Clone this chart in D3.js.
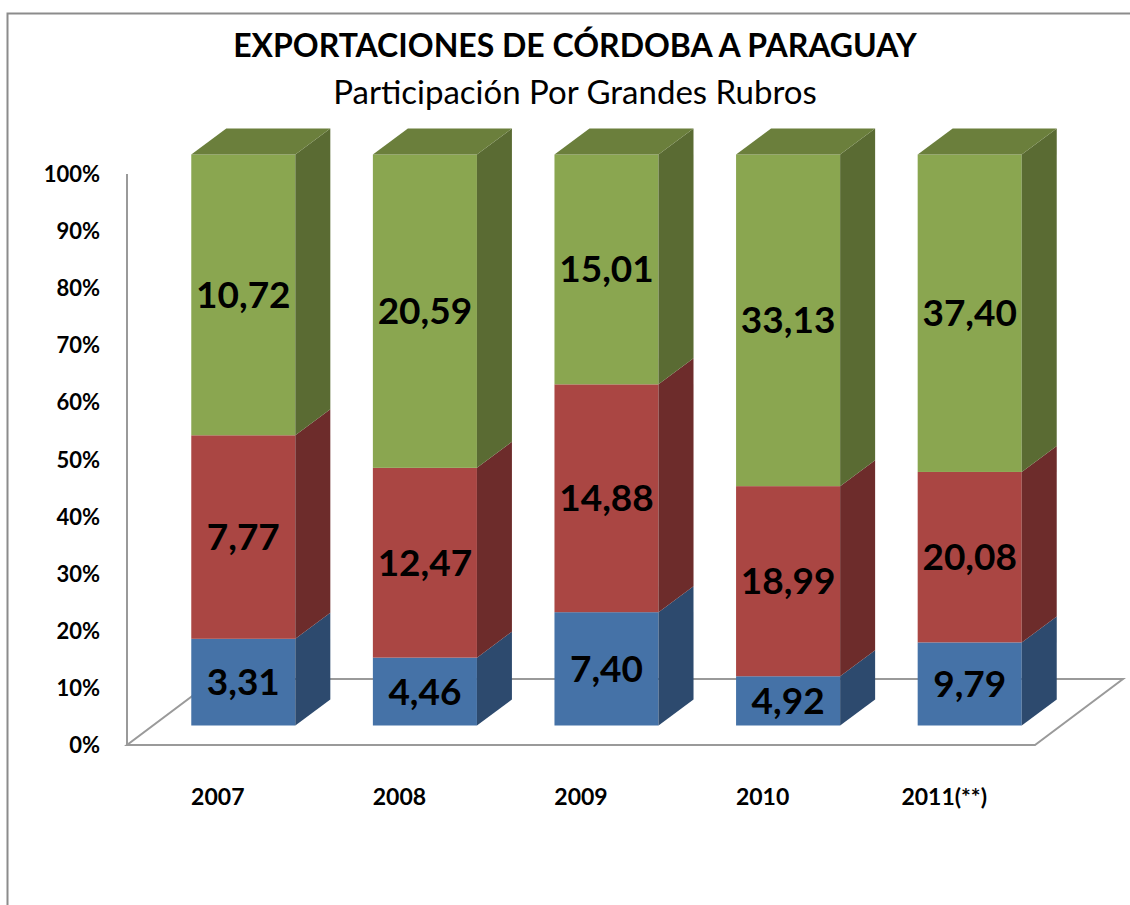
<!DOCTYPE html>
<html>
<head>
<meta charset="utf-8">
<script src="https://d3js.org/d3.v7.min.js"></script>
<style>
    body { margin: 0; background: #fff; }
    text { font-family: Lato, "Liberation Sans", sans-serif; }
</style>
</head>
<body>
<div id="chart"></div>
<script>
const years = ["2007", "2008", "2009", "2010", "2011(**)"];
const blueValues = [3.31, 4.46, 7.40, 4.92, 9.79];
const redValues = [7.77, 12.47, 14.88, 18.99, 20.08];
const greenValues = [10.72, 20.59, 15.01, 33.13, 37.40];
const yTicks = [0, 0.1, 0.2, 0.3, 0.4, 0.5, 0.6, 0.7, 0.8, 0.9, 1];

const series = [
    { values: blueValues, front: "#4572A7", side: "#2D4A6E", top: "#3A5F8C" },
    { values: redValues, front: "#AA4643", side: "#6D2C2B", top: "#8A3836" },
    { values: greenValues, front: "#8AA650", side: "#5A6B33", top: "#6B7F3C" }
];

drawChart();

function drawChart() {
    const width = 1130, height = 905;

    const svg = d3.select("#chart")
        .append("svg")
        .attr("width", width)
        .attr("height", height);

    svg.append("rect")
        .attr("width", width)
        .attr("height", height)
        .attr("fill", "#fff");

    // outer frame, cut off at the right and bottom like the original
    svg.append("rect")
        .attr("x", 7.5)
        .attr("y", 13.5)
        .attr("width", 1300)
        .attr("height", 1000)
        .attr("fill", "none")
        .attr("stroke", "#8c8c8c")
        .attr("stroke-width", 2);

    const x = d3.scaleBand()
        .domain(years)
        .range([127, 1035])
        .paddingInner(0.427)
        .paddingOuter(0.2135);

    const y = d3.scaleLinear()
        .domain([0, 1])
        .range([745, 174]);

    // floor depth and bar placement inside it
    const floorDepth = { dx: 88, dy: -66 };
    const barShift = { dx: 25.5, dy: -19.5 };
    const barDepth = { dx: 35, dy: -26 };

    drawFloor(svg, x, y, floorDepth);
    drawAxes(svg, x, y);
    drawBars(svg, x, y, barShift, barDepth);
    drawTitle(svg);
}

function drawFloor(svg, x, y, depth) {
    const [x0, x1] = x.range();
    const y0 = y(0);

    const pts = [
        [x0, y0], [x1, y0],
        [x1 + depth.dx, y0 + depth.dy],
        [x0 + depth.dx, y0 + depth.dy]
    ];

    svg.append("path")
        .attr("d", d3.line()(pts) + "Z")
        .attr("fill", "none")
        .attr("stroke", "#9a9a9a")
        .attr("stroke-width", 2);

    // vertical axis line
    svg.append("line")
        .attr("x1", x0).attr("x2", x0)
        .attr("y1", y(1)).attr("y2", y0)
        .attr("stroke", "#9a9a9a")
        .attr("stroke-width", 2);
}

function drawAxes(svg, x, y) {
    svg.append("g")
        .selectAll("text")
        .data(yTicks)
        .enter().append("text")
        .attr("x", 100)
        .attr("y", d => y(d) + 8)
        .attr("text-anchor", "end")
        .style("font-size", "22px")
        .style("font-weight", "bold")
        .text(d => d3.format(".0%")(d));

    svg.append("g")
        .selectAll("text")
        .data(years)
        .enter().append("text")
        .attr("x", d => x(d) + x.bandwidth() / 2)
        .attr("y", 805)
        .attr("text-anchor", "middle")
        .style("font-size", "23px")
        .style("font-weight", "bold")
        .text(d => d);
}

function drawBars(svg, x, y, shift, depth) {
    const bw = x.bandwidth();
    const fmt = v => v.toFixed(2).replace(".", ",");

    years.forEach((year, i) => {
        const total = d3.sum(series, s => s.values[i]);
        const g = svg.append("g").attr("class", "bar");
        const left = x(year) + shift.dx;
        let acc = 0;

        series.forEach((s, si) => {
            const v0 = acc / total;
            acc += s.values[i];
            const v1 = acc / total;
            const yb = y(v0) + shift.dy;
            const yt = y(v1) + shift.dy;

            // front face
            g.append("rect")
                .attr("x", left)
                .attr("y", yt)
                .attr("width", bw)
                .attr("height", yb - yt)
                .attr("fill", s.front);

            // side face
            g.append("path")
                .attr("d", d3.line()([
                    [left + bw, yb], [left + bw + depth.dx, yb + depth.dy],
                    [left + bw + depth.dx, yt + depth.dy], [left + bw, yt]
                ]) + "Z")
                .attr("fill", s.side);

            // top face only on the last segment
            if (si === series.length - 1) {
                g.append("path")
                    .attr("d", d3.line()([
                        [left, yt], [left + bw, yt],
                        [left + bw + depth.dx, yt + depth.dy], [left + depth.dx, yt + depth.dy]
                    ]) + "Z")
                    .attr("fill", s.top);
            }

            g.append("text")
                .attr("x", left + bw / 2)
                .attr("y", (yb + yt) / 2 + 13)
                .attr("text-anchor", "middle")
                .style("font-size", "37px")
                .style("font-weight", "bold")
                .text(fmt(s.values[i]));
        });
    });
}

function drawTitle(svg) {
    svg.append("text")
        .attr("x", 575)
        .attr("y", 57)
        .attr("text-anchor", "middle")
        .style("font-size", "32px")
        .style("font-weight", "bold")
        .text("EXPORTACIONES DE CÓRDOBA A PARAGUAY");

    svg.append("text")
        .attr("x", 575)
        .attr("y", 104)
        .attr("text-anchor", "middle")
        .style("font-size", "33px")
        .text("Participación Por Grandes Rubros");
}
</script>
</body>
</html>
